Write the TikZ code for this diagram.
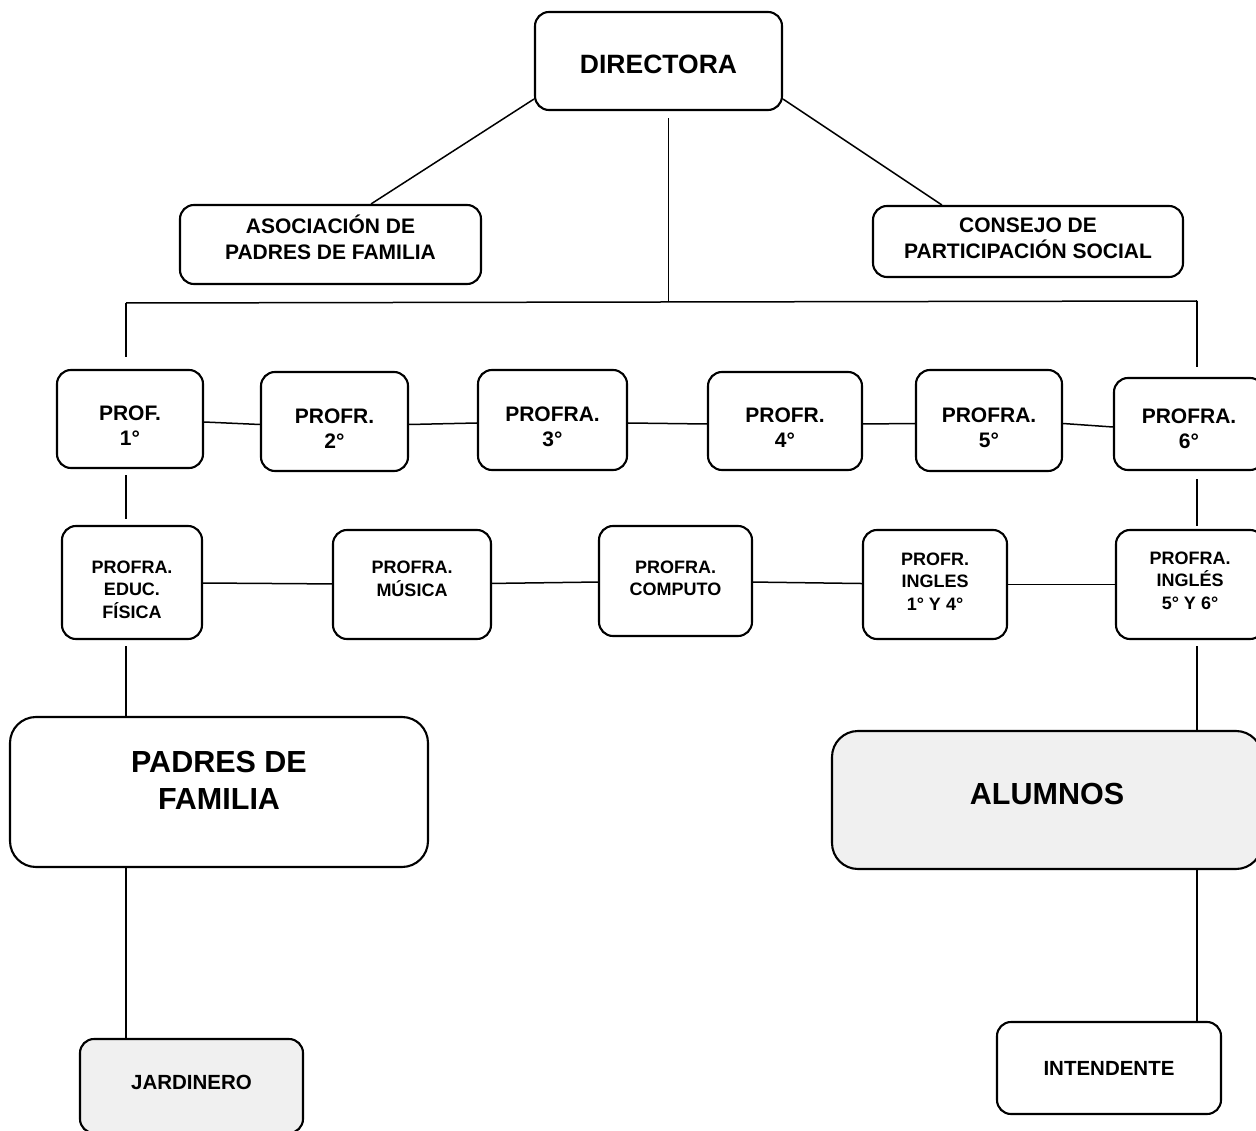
\documentclass[tikz,border=0pt]{standalone}
\usepackage{fontspec}
\setmainfont{Liberation Sans}
\usetikzlibrary{calc}

\newcommand{\fdir}{\fontsize{26.5}{30}\selectfont\bfseries}
\newcommand{\fmed}{\fontsize{21}{25.5}\selectfont\bfseries}
\newcommand{\frow}{\fontsize{21}{25}\selectfont\bfseries}
\newcommand{\fchica}{\fontsize{18}{22.5}\selectfont\bfseries}
\newcommand{\fgrande}{\fontsize{30.5}{37}\selectfont\bfseries}
\newcommand{\fbase}{\fontsize{20.5}{23}\selectfont\bfseries}

\tikzset{
  caja/.style={draw, line width=2.1pt, rounded corners=14pt, align=center, inner sep=0pt},
  cajag/.style={caja, rounded corners=26pt},
  grado/.style={caja, font=\frow, text height=54pt},
  gris/.style={fill=black!6},
  linea/.style={line width=1.5pt}
}

\begin{document}
\begin{tikzpicture}[x=1pt,y=-1pt]
\useasboundingbox (0,0) rectangle (1256,1131);

% direccion
\node[caja,font=\fdir,minimum width=247pt,minimum height=98pt,text height=26pt] (dir) at (658.5,61) {DIRECTORA};
\node[caja,font=\fmed,minimum width=301pt,minimum height=79pt,text depth=15pt] (asoc) at (330.5,244.5) {ASOCIACIÓN DE\\PADRES DE FAMILIA};
\node[caja,font=\fmed,minimum width=310pt,minimum height=71pt,text depth=7pt] (cons) at (1028,241.5) {CONSEJO DE\\PARTICIPACIÓN SOCIAL};

% grados
\node[grado,minimum width=146pt,minimum height=98pt] (p1) at (130,419) {PROF.\\1°};
\node[grado,minimum width=147pt,minimum height=99pt] (p2) at (334.5,421.5) {PROFR.\\2°};
\node[grado,minimum width=149pt,minimum height=100pt] (p3) at (552.5,420) {PROFRA.\\3°};
\node[grado,minimum width=154pt,minimum height=98pt] (p4) at (785,421) {PROFR.\\4°};
\node[grado,minimum width=146pt,minimum height=101pt] (p5) at (989,420.5) {PROFRA.\\5°};
\node[grado,minimum width=150pt,minimum height=92pt,text height=50pt] (p6) at (1189,424) {PROFRA.\\6°};

% especiales
\node[caja,font=\fchica,minimum width=140pt,minimum height=113pt,text height=72pt] (e1) at (132,582.5) {PROFRA.\\EDUC.\\FÍSICA};
\node[caja,font=\fchica,minimum width=158pt,minimum height=109pt,text depth=12pt] (e2) at (412,584.5) {PROFRA.\\MÚSICA};
\node[caja,font=\fchica,minimum width=153pt,minimum height=110pt,text depth=6pt] (e3) at (675.5,581) {PROFRA.\\COMPUTO};
\node[caja,font=\fchica,minimum width=144pt,minimum height=109pt,text depth=6pt] (e4) at (935,584.5) {PROFR.\\INGLES\\1° Y 4°};
\node[caja,font=\fchica,minimum width=148pt,minimum height=109pt,text depth=8pt] (e5) at (1190,584.5) {PROFRA.\\INGLÉS\\5° Y 6°};

% comunidad
\node[cajag,font=\fgrande,minimum width=418pt,minimum height=150pt,text depth=24pt] (padres) at (219,792) {PADRES DE\\FAMILIA};
\node[cajag,gris,font=\fgrande,minimum width=430pt,minimum height=138pt,text depth=12pt] (alum) at (1047,800) {ALUMNOS};
\node[caja,gris,font=\fbase,minimum width=223pt,minimum height=94pt,text depth=8pt] (jard) at (191.5,1086) {JARDINERO};
\node[caja,font=\fbase,minimum width=224pt,minimum height=92pt] (int) at (1109,1068) {INTENDENTE};

% lineas
\coordinate (bl) at (126,303);
\coordinate (br) at (1197,301);
\coordinate (bm) at (668.5,301.5);

\draw[linea] (dir.197) -- (asoc.45);
\draw[linea] (dir.-17.5) -- (cons.157.6);
\draw[linea] ($(dir.south)+(10,7)$) -- (bm);
\draw[linea] (bl) -- (br);
\draw[linea] (bl) -- ($(p1.north -| bl)+(0,-12)$);
\draw[linea] (br) -- ($(p6.north -| br)+(0,-10)$);

\foreach \a/\b in {p1/p2,p2/p3,p3/p4,p4/p5,p5/p6}
  \draw[linea] ([yshift=-3pt]\a.east) -- ([yshift=-3pt]\b.west);
\foreach \a/\b in {e1/e2,e2/e3,e3/e4,e4/e5}
  \draw[linea] (\a) -- (\b);

\draw[linea] ($(p1.south -| bl)+(0,6)$) -- ($(e1.north -| bl)+(0,-6)$);
\draw[linea] ($(p6.south -| br)+(0,8)$) -- ($(e5.north -| br)+(0,-3)$);
\draw[linea] ($(e1.south -| bl)+(0,6)$) -- (padres.north -| bl);
\draw[linea] ($(e5.south -| br)+(0,6)$) -- (alum.north -| br);
\draw[linea] (padres.south -| bl) -- (jard.north -| bl);
\draw[linea] (alum.south -| br) -- (int.north -| br);
\end{tikzpicture}
\end{document}
